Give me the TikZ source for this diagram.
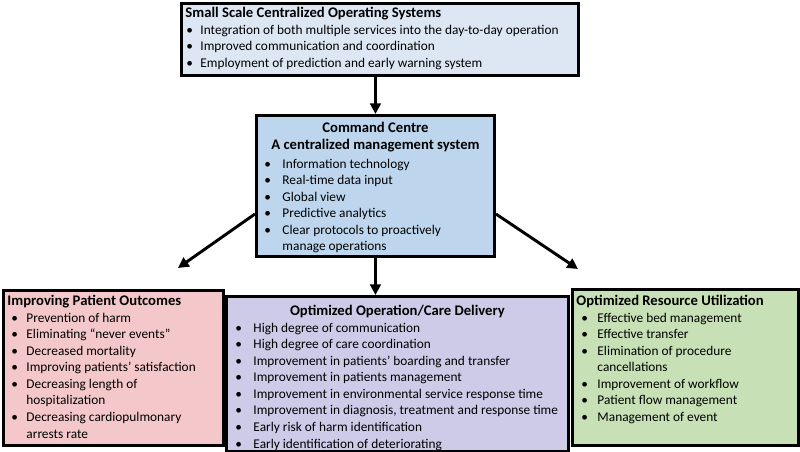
\documentclass[tikz,border=0pt]{standalone}
\usepackage{fontspec}
\setmainfont{Carlito}
\usetikzlibrary{positioning, arrows.meta}

\newdimen\pxunit \pxunit=0.75pt
\definecolor{topblue}{HTML}{DDE7F3}
\definecolor{cmdblue}{HTML}{BDD6EE}
\definecolor{outpink}{HTML}{F4C8CA}
\definecolor{carelilac}{HTML}{CDCBE8}
\definecolor{resgreen}{HTML}{C7E0B5}

% fixed size text block of a box (width, height in px)
\newcommand{\boxtxt}[3]{\begin{minipage}[t][\dimexpr#2\pxunit-6pt\relax][t]{\dimexpr#1\pxunit-6pt\relax}\fontsize{10}{12.4}\selectfont\raggedright #3\end{minipage}}
% bullet list: bullet offset, text indent (px)
\newenvironment{bul}[2]{\begin{list}{\hspace*{#1\pxunit}\textbullet}{\setlength\leftmargin{#2\pxunit}\setlength\labelwidth{#2\pxunit}\setlength\labelsep{0pt}\setlength\itemsep{0pt}\setlength\topsep{0pt}\setlength\parsep{0pt}\setlength\partopsep{0pt}\renewcommand\makelabel[1]{##1\hfil}}}{\end{list}}
\newcommand{\btitle}[1]{{\bfseries\fontsize{11}{12.4}\selectfont #1\par}}

\begin{document}
\begin{tikzpicture}[x=0.75pt, y=-0.75pt,
    sysbox/.style={draw, line width=2.2pt, inner xsep=3pt, inner ysep=3pt, anchor=north west},
    flow/.style={line width=2.2pt, -{Triangle[length=8pt,width=8pt]}}]
        \useasboundingbox (0,0) rectangle (800,451);

        % top box
        \node[sysbox, fill=topblue] (small) at (180,2) {\boxtxt{397}{72}{%
            \btitle{Small Scale Centralized Operating Systems}
            \begin{bul}{1}{15}
            \item Integration of both multiple services into the day-to-day operation
            \item Improved communication and coordination
            \item Employment of prediction and early warning system
            \end{bul}}};

        % command centre
        \node[sysbox, fill=cmdblue] (cmd) at (255,114) {\boxtxt{238}{141}{%
            \vspace*{3\pxunit}
            {\centering\btitle{Command Centre}\btitle{A centralized management system}}
            \vspace{2.5\pxunit}
            \begin{bul}{4}{22}
            \item Information technology
            \item Real-time data input
            \item Global view
            \item Predictive analytics
            \item Clear protocols to proactively\newline manage operations
            \end{bul}}};

        % three outcome boxes
        \node[sysbox, fill=outpink] (outcome) at (2,289) {\boxtxt{220}{155}{%
            \vspace*{1\pxunit}
            \btitle{Improving Patient Outcomes}
            \begin{bul}{4}{19}
            \item Prevention of harm
            \item Eliminating “never events”
            \item Decreased mortality
            \item Improving patients’ satisfaction
            \item Decreasing length of\newline hospitalization
            \item Decreasing cardiopulmonary\newline arrests rate
            \end{bul}}};
        \node[sysbox, fill=carelilac] (care) at (225,295) {\boxtxt{342}{155}{%
            \vspace*{5\pxunit}
            {\centering\btitle{Optimized Operation/Care Delivery}}
            \begin{bul}{5}{23}
            \item High degree of communication
            \item High degree of care coordination
            \item Improvement in patients’ boarding and transfer
            \item Improvement in patients management
            \item Improvement in environmental service response time
            \item Improvement in diagnosis, treatment and response time
            \item Early risk of harm identification
            \item Early identification of deteriorating
            \end{bul}}};
        \node[sysbox, fill=resgreen] (resource) at (571,288) {\boxtxt{226}{156}{%
            \vspace*{2\pxunit}
            \btitle{Optimized Resource Utilization}
            \begin{bul}{5}{21}
            \item Effective bed management
            \item Effective transfer
            \item Elimination of procedure\newline cancellations
            \item Improvement of workflow
            \item Patient flow management
            \item Management of event
            \end{bul}}};

        % arrows
        \coordinate (lend) at (178,268);
        \coordinate (rend) at (578,269);
        \draw[flow] (cmd.north |- small.south) -- (cmd.north);
        \draw[flow] (cmd.south) -- (cmd.south |- care.north);
        \draw[flow] ([yshift=-21pt]cmd.west) -- (lend);
        \draw[flow] ([yshift=-21pt]cmd.east) -- (rend);
    \end{tikzpicture}
\end{document}
